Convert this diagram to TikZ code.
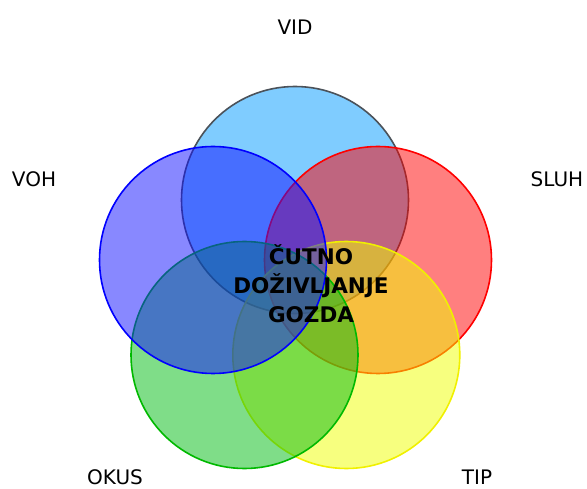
\documentclass[tikz,border=0pt]{standalone}
\usepackage{fontspec}
\setmainfont{DejaVu Sans}
\begin{document}
\begin{tikzpicture}[x=1pt,y=1pt,
  ring/.style={circle, minimum size=227pt, inner sep=0pt, line width=1.6pt, fill opacity=0.5},
  sense/.style={font=\fontsize{20}{24}\selectfont, text=black, inner sep=0pt},
  core/.style={font=\bfseries\fontsize{21.5}{29}\selectfont, align=center, text=black, inner sep=0pt}]
\definecolor{cTop}{RGB}{0,153,255}
\definecolor{cTopLine}{RGB}{75,82,90}
\definecolor{cLeft}{RGB}{17,17,255}
\definecolor{cRed}{RGB}{255,0,0}
\definecolor{cGreen}{RGB}{0,187,17}
\definecolor{cGreenLine}{RGB}{0,185,0}
\definecolor{cYellow}{RGB}{240,255,0}
\definecolor{cYellowLine}{RGB}{240,240,0}
\useasboundingbox (0,0) rectangle (587,488);
\node[ring, draw=cTopLine, fill=cTop] (vid) at (295,288) {};
\node[ring, draw=cRed, fill=cRed] (sluh) at (378,228) {};
\node[ring, draw=cYellowLine, fill=cYellow] (tip) at (346.3,133) {};
\node[ring, draw=cGreenLine, fill=cGreen] (okus) at (244.5,133) {};
\node[ring, draw=blue, fill=cLeft] (voh) at (213,228) {};
\node[core] (c) at (311,204) {ČUTNO\\DOŽIVLJANJE\\GOZDA};
\node[sense] (lvid) at (295,461) {VID};
\node[sense] (lvoh) at (34,309) {VOH};
\node[sense] (lsluh) at (557,309) {SLUH};
\node[sense] (lokus) at (115,11) {OKUS};
\node[sense] (ltip) at (477,11) {TIP};
\end{tikzpicture}
\end{document}
